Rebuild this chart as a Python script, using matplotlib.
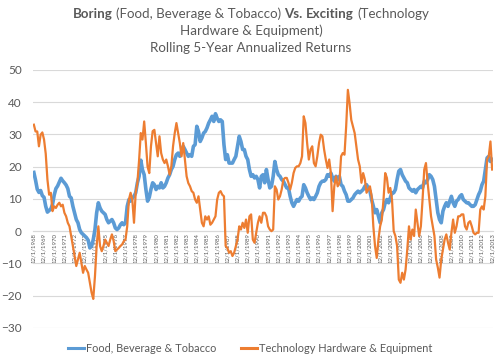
import matplotlib
matplotlib.use('Agg')
import matplotlib.pyplot as plt
import pandas as pd

# Bimonthly observations, Dec 1968 .. Dec 2013
dates = pd.date_range('1968-12-01', '2013-12-01', freq='2MS')

food = [18.2, 15.8, 13, 12, 12.6, 11, 10.5, 7.7, 5.9, 6.4, 6.9, 8.3, 11.2, 13.2, 14, 15.2, 16.4, 15.6, 15, 14.3,
        13.2, 10.8, 10.3,
        7.7, 5.7, 3.6, 2.6, 0.5, -0.5, -1, -1.5, -2, -2.8,
        -5.2, -4.6, -2.6, 0.5, 5.7, 8.8, 7.2, 6.2, 5.7, 5.2,
        3.6, 2.6, 3.1, 3.6, 2.6, 1, 0.5, 1, 2, 2.6,
        2, 2.6, 7.7, 9.8, 9.3, 10.3, 10.8, 11.9, 15, 17,
        22, 19, 17.5, 13, 9.3, 10.5, 13, 15, 14.4, 12.9,
        13.9, 13.4, 15, 13.4,
        13.9, 15, 16.5, 17.5, 19.1, 20.1, 22.2, 23.7, 24.2, 23.2,
        24.7, 26.3, 25.3, 24.2, 23.2, 23.7, 23.2, 26.3, 26.8, 32.5,
        30.9, 27.8, 28.9, 30.4, 30.9, 32, 33.5, 34.5, 35.6, 34,
        36.4, 35, 34, 34.5, 34, 26.8, 22.2, 23.7, 21.1, 21.1,
        21.1, 22.2, 23.2, 26.3, 29.4, 27.8, 25.3, 25.3, 23.2, 22.2,
        19.1, 17, 17.5, 16.5, 17, 16, 13.4,
        17, 17.5, 15, 19.1, 16, 13.4, 13.9, 17, 21.6, 19.1,
        17.5, 17, 16, 15.5, 14.4, 13.4, 13.4, 10.8, 8.8, 7.7,
        8.8, 9.8, 9.3, 10.3, 10.8, 14.4, 13.4, 11.9, 10.8, 9.8,
        10.3, 9.8, 10.8, 11.9, 13.9, 15, 15.5, 15.5, 16, 17.5,
        17, 18, 16.5, 15.5, 17, 16, 17, 14.4, 13.9, 12.4,
        11.3, 9.3, 9.3, 9.8, 10.3, 11.3, 11.9, 12.4, 11.9, 12.4,
        12.9, 13.9, 14.4, 13.4, 12.4, 9.8, 7.7, 5.7, 6.7, 4.6,
        2.6, 5.7, 6.7, 8.8, 9.8, 8.8, 10.3, 11.9,
        11.9, 12.9, 16, 18.6, 19.1, 17.5, 16.5, 15.5, 15, 13.4,
        12.9, 12.4, 12.9, 11.9, 12.9, 13.4, 13.9, 13.4, 15.5, 15,
        16, 17.5, 17, 16, 13.9, 9.8, 5.7, 3.6, 2.6, 6.2,
        7.7, 8.8, 7.7, 9.3, 10.8, 8.8, 7.7, 9.3, 9.8, 10.8,
        11.3,
        9.8, 9.3, 8.8, 8.8, 8.2, 7.7, 7.7, 8.2, 9.8, 11.3,
        12.4, 14.4, 15.5, 19.1, 22.7, 23.2, 21.6, 22.2]

tech = [33, 30.9, 30.9, 26.3, 29.9, 30.6, 28.4, 24, 16, 11.3,
        11.9, 6.2, 7.7, 7.2, 8.2, 8.8, 7.7, 8.2, 5.7, 4.6,
        2.6, 1.5, -1.5,
        -4.6, -7.7, -10.8, -8.8, -6.7, -9.8, -12.9, -10.8, -11.9, -12.9,
        -16, -19, -21, -14, -4.6, 1.5, -4.6, -6.2, -4.6, -2.6,
        -3.6, -4.6, -2.6, -1, -3, -6.2, -5.7, -5.2, -4.6, -4.1,
        -3.1, -2.6, 1.5, 9.8, 11.9, 9.8, 2.6, 11.9, 15, 22,
        30.4, 28.4, 34, 27.3, 20, 18, 26.3, 31, 31.4, 27.3,
        23.2, 29.4, 24.2, 22.2,
        21.1, 22.2, 20.1, 17.5, 20.1, 26.3, 30.4, 33.5, 30.4, 27.3,
        23.2, 27.3, 22.2, 17, 14.9, 13.9, 12.4, 11.9, 9.8, 8.8,
        10.8, 6.7, 2.6, 1.5, 4.6, 3.6, 4.6, 2, 2.6, 3.6,
        4.6, 9.8, 11.9, 12.4, 11.3, 10.8, -4.6, -5.2, -6.7, -6.2,
        -7.7, -6.7, -4.6, -2.6, 1.5, 0.5, 2.6, 1, 3.6, -0.5,
        4.6, 5.2, -2.6, -3.6, -0.5, 2.6, 4.6,
        2.6, 5.7, 5.7, 4.6, 1.5, 0.5, 0, 0.5, 13.9, 12.9,
        9.8, 10.8, 12.9, 16, 16.5, 16.5, 15, 12.9, 15, 18,
        19.6, 20.1, 20.1, 21.1, 23.2, 35.6, 33.5, 27.3, 22.2, 25.3,
        26.3, 21.1, 20.1, 23.2, 27.3, 29.9, 29.4, 25.3, 22.2, 19.6,
        22.2, 18, 6.2, 13.9, 17, 13.9, 14.9, 23.2, 24.2, 23.7,
        32.5, 43.8, 39.7, 34.5, 32.5, 30.4, 26.3, 22.2, 20.1, 15,
        18, 16, 11.9, 12.9, 13.9, 10.8, 1.5, -4.6, -8.3, -2.6,
        1.5, 3.6, 9.8, 18, 16.5, 11.9, 13.4, 9.8,
        0, -1.5, -4.6, -15, -16, -12.9, -15, -11.9, -5.7, 1.5,
        -2.6, 0.5, -1.5, 6.7, 2.6, -1.5, 1.5, 9.8, 19.1, 21.1,
        15, 9.8, 4.6, 1.5, -1.5, -8.8, -11.3, -14.4, -8.8, -5.7,
        -2.6, -1, -3.6, -5.7, -0.5, 3.6, -0.5, 1.5, 4.6, 4.6,
        5.2,
        5.2, 1.5, 0.5, 2.6, 3.1, 1.5, -0.5, -1, -0.5, -0.5,
        6.7, 7.7, 6.7, 10.8, 22.2, 23.2, 27.8, 19.1]

tick_years = list(range(1968, 2014))
tick_labels = [f"12/1/{y}" for y in tick_years]
title_line1 = [("Boring", "bold"), ("(Food, Beverage & Tobacco)", "normal"),
               ("Vs.", "bold"), ("Exciting", "bold"), ("(Technology", "normal")]
title_line2 = "Hardware & Equipment)"
title_line3 = "Rolling 5-Year Annualized Returns"
series_names = ["Food, Beverage & Tobacco", "Technology Hardware & Equipment"]

FONT = ['Lato', 'DejaVu Sans']
plt.rcParams['font.family'] = FONT
GRAY = '#595959'
BLUE = '#5B9BD5'
ORANGE = '#ED7D31'

fig = plt.figure(figsize=(5, 3.6), dpi=100)
ax = fig.add_axes([0.066, 0.089, 0.92, 0.717])

months = [(d.year - 1968) * 12 + d.month - 12 for d in dates]
tick_pos = [(y - 1968) * 12 for y in tick_years]

ax.plot(months, food, color=BLUE, lw=2.6, solid_joinstyle='round', label=series_names[0], zorder=3)
ax.plot(months, tech, color=ORANGE, lw=1.6, solid_joinstyle='round', label=series_names[1], zorder=4)

ax.set_xlim(-1, 541)
ax.set_ylim(-30, 50)
ax.set_yticks(range(-30, 60, 10))
ax.yaxis.grid(True, color='#D9D9D9', lw=0.8)
ax.set_axisbelow(True)
for s in ['top', 'right', 'left']:
    ax.spines[s].set_visible(False)
ax.spines['bottom'].set_position(('data', 0))
ax.spines['bottom'].set_color('#D9D9D9')
ax.spines['bottom'].set_linewidth(0.8)
ax.set_xticks(tick_pos)
ax.set_xticklabels(tick_labels, rotation=90, fontsize=4.3, color=GRAY)
ax.tick_params(axis='x', length=0, pad=1.5)
ax.tick_params(axis='y', length=0, pad=8, labelsize=8.5, labelcolor=GRAY)

leg = fig.legend(loc='center', bbox_to_anchor=(0.5, 0.031), ncol=2, frameon=False,
                 fontsize=7.9, handlelength=1.45, handletextpad=0.15, columnspacing=2.3,
                 labelcolor=GRAY)
for h in leg.get_lines():
    h.set_linewidth(2.2)

# Title with mixed weights
TSIZE = 9.6
fig.canvas.draw()
r = fig.canvas.get_renderer()

def width_px(s, weight):
    t = fig.text(0, 0, s, fontsize=TSIZE, fontweight=weight)
    w = t.get_window_extent(r).width
    t.remove()
    return w

sp = width_px("a a", "normal") - width_px("aa", "normal")
widths = [width_px(s, w) for s, w in title_line1]
total = sum(widths) + sp * (len(widths) - 1)
cx = 251.0
x = cx - total / 2
y1 = 1 - 13.5 / 360
for (s, w), wd in zip(title_line1, widths):
    fig.text(x / 500, y1, s, fontsize=TSIZE, fontweight=w, color=GRAY, ha='left', va='center')
    x += wd + sp
fig.text(cx / 500, 1 - 31 / 360, title_line2, fontsize=TSIZE, color=GRAY, ha='center', va='center')
fig.text(cx / 500, 1 - 48 / 360, title_line3, fontsize=TSIZE, color=GRAY, ha='center', va='center')

fig.savefig('out.png', dpi=100)
